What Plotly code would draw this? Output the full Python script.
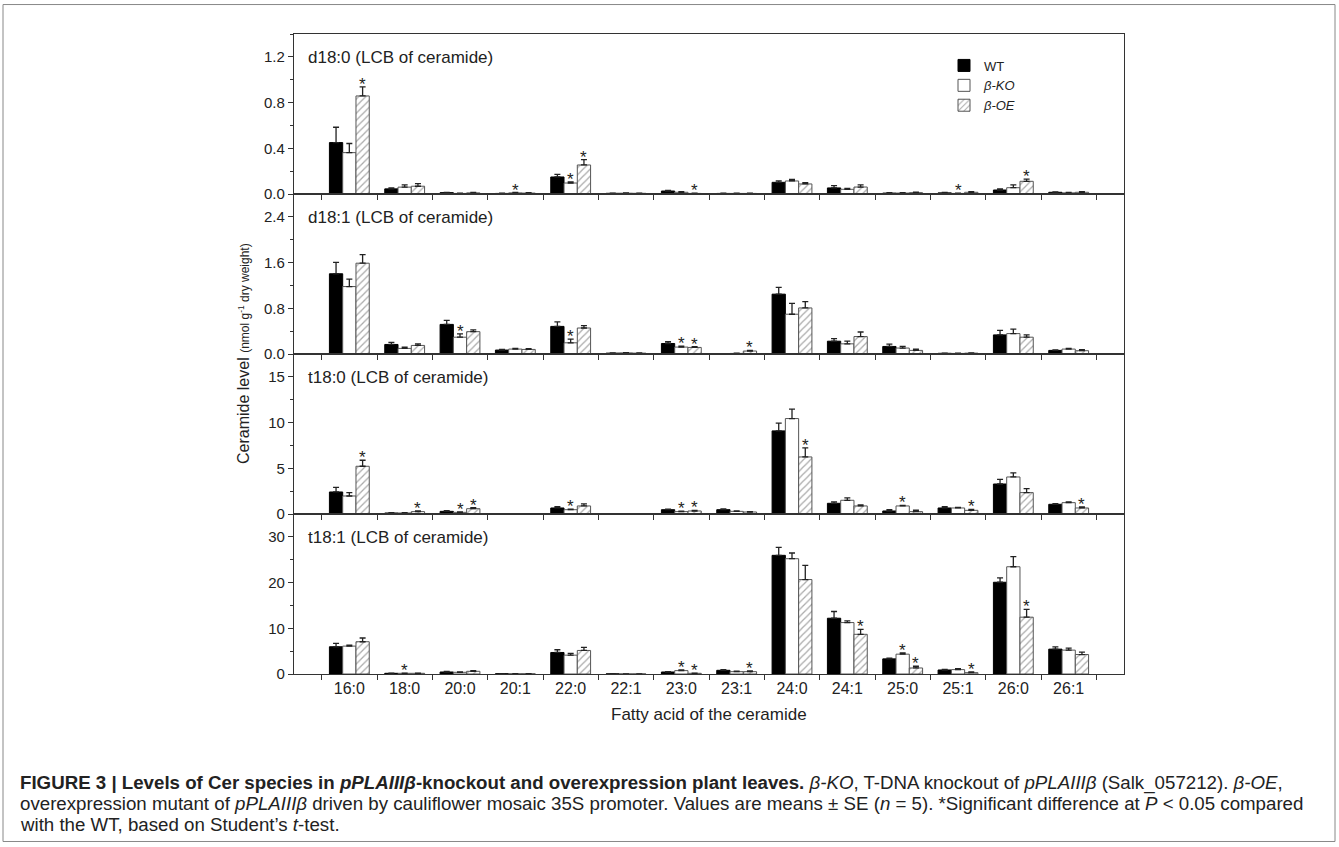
import plotly.graph_objects as go

# ---------------- data ----------------
categories = ["16:0", "18:0", "20:0", "20:1", "22:0", "22:1", "23:0",
              "23:1", "24:0", "24:1", "25:0", "25:1", "26:0", "26:1"]
genotypes = ["WT", "<i>β-KO</i>", "<i>β-OE</i>"]
panel_titles = ["d18:0 (LCB of ceramide)", "d18:1 (LCB of ceramide)",
                "t18:0 (LCB of ceramide)", "t18:1 (LCB of ceramide)"]

# d18:0
d180_wt = [0.45, 0.045, 0.012, 0.005, 0.149, 0.006, 0.026, 0.005, 0.102, 0.053, 0.008, 0.010, 0.035, 0.015]
d180_ko = [0.362, 0.060, 0.005, 0.010, 0.096, 0.007, 0.015, 0.005, 0.114, 0.041, 0.008, 0.005, 0.055, 0.010]
d180_oe = [0.858, 0.068, 0.010, 0.008, 0.254, 0.006, 0.005, 0.005, 0.088, 0.061, 0.012, 0.015, 0.111, 0.015]
d180_wt_se = [0.134, 0.008, 0.003, 0.002, 0.023, 0.002, 0.005, 0.002, 0.012, 0.020, 0.003, 0.003, 0.009, 0.004]
d180_ko_se = [0.080, 0.020, 0.002, 0.003, 0.010, 0.002, 0.006, 0.002, 0.013, 0.009, 0.003, 0.002, 0.024, 0.003]
d180_oe_se = [0.080, 0.023, 0.004, 0.003, 0.047, 0.002, 0.002, 0.002, 0.012, 0.018, 0.005, 0.005, 0.020, 0.005]
d180_ko_sig = [0, 0, 0, 1, 1, 0, 0, 0, 0, 0, 0, 1, 0, 0]
d180_oe_sig = [1, 0, 0, 0, 1, 0, 1, 0, 0, 0, 0, 0, 1, 0]

# d18:1
d181_wt = [1.404, 0.167, 0.518, 0.069, 0.483, 0.015, 0.184, 0.005, 1.047, 0.224, 0.132, 0.012, 0.334, 0.063]
d181_ko = [1.180, 0.098, 0.294, 0.086, 0.196, 0.020, 0.121, 0.010, 0.696, 0.178, 0.104, 0.010, 0.357, 0.086]
d181_oe = [1.589, 0.150, 0.391, 0.080, 0.455, 0.015, 0.115, 0.052, 0.806, 0.305, 0.063, 0.015, 0.294, 0.058]
d181_wt_se = [0.200, 0.035, 0.070, 0.012, 0.080, 0.004, 0.030, 0.003, 0.120, 0.046, 0.040, 0.004, 0.080, 0.008]
d181_ko_se = [0.130, 0.023, 0.058, 0.012, 0.063, 0.004, 0.017, 0.003, 0.190, 0.046, 0.030, 0.003, 0.080, 0.012]
d181_oe_se = [0.150, 0.028, 0.030, 0.012, 0.040, 0.004, 0.012, 0.012, 0.110, 0.080, 0.023, 0.005, 0.040, 0.017]
d181_ko_sig = [0, 0, 1, 0, 1, 0, 1, 0, 0, 0, 0, 0, 0, 0]
d181_oe_sig = [0, 0, 0, 0, 0, 0, 1, 1, 0, 0, 0, 0, 0, 0]

# t18:0
t180_wt = [2.41, 0.11, 0.29, 0.02, 0.66, 0.02, 0.47, 0.47, 9.09, 1.17, 0.33, 0.66, 3.28, 1.06]
t180_ko = [1.97, 0.11, 0.18, 0.02, 0.47, 0.02, 0.26, 0.29, 10.44, 1.50, 0.88, 0.66, 4.05, 1.24]
t180_oe = [5.22, 0.26, 0.58, 0.02, 0.88, 0.02, 0.33, 0.22, 6.24, 0.88, 0.26, 0.40, 2.34, 0.66]
t180_wt_se = [0.51, 0.03, 0.07, 0.01, 0.15, 0.01, 0.07, 0.10, 0.84, 0.15, 0.15, 0.15, 0.51, 0.07]
t180_ko_se = [0.37, 0.03, 0.05, 0.01, 0.07, 0.01, 0.04, 0.04, 1.02, 0.26, 0.07, 0.07, 0.44, 0.07]
t180_oe_se = [0.66, 0.07, 0.11, 0.01, 0.22, 0.01, 0.07, 0.05, 0.99, 0.11, 0.15, 0.11, 0.44, 0.11]
t180_ko_sig = [0, 0, 1, 0, 1, 0, 1, 0, 0, 0, 1, 0, 0, 0]
t180_oe_sig = [1, 1, 1, 0, 0, 0, 1, 0, 1, 0, 0, 1, 0, 1]

# t18:1
t181_wt = [5.96, 0.15, 0.44, 0.05, 4.71, 0.02, 0.44, 0.81, 25.96, 12.20, 3.31, 0.88, 20.07, 5.44]
t181_ko = [6.10, 0.15, 0.37, 0.05, 4.12, 0.02, 0.74, 0.51, 25.22, 11.25, 4.34, 0.96, 23.46, 5.22]
t181_oe = [7.06, 0.15, 0.59, 0.05, 5.15, 0.02, 0.15, 0.51, 20.66, 8.68, 1.32, 0.29, 12.43, 4.26]
t181_wt_se = [0.74, 0.05, 0.15, 0.02, 0.59, 0.01, 0.10, 0.15, 1.76, 1.47, 0.15, 0.15, 0.96, 0.51]
t181_ko_se = [0.22, 0.05, 0.10, 0.02, 0.37, 0.01, 0.15, 0.10, 1.25, 0.37, 0.29, 0.22, 2.20, 0.44]
t181_oe_se = [0.81, 0.05, 0.15, 0.02, 0.66, 0.01, 0.05, 0.15, 3.09, 1.10, 0.37, 0.15, 1.69, 0.51]
t181_ko_sig = [0, 1, 0, 0, 0, 0, 1, 0, 0, 0, 1, 0, 0, 0]
t181_oe_sig = [0, 0, 0, 0, 0, 0, 1, 1, 0, 1, 1, 1, 1, 0]

y_ranges = [1.4, 2.8, 17.5, 35]
y_dticks = [0.4, 0.8, 5, 10]
y_formats = [".1f", ".1f", "d", "d"]

panels = [
    (d180_wt, d180_ko, d180_oe, d180_wt_se, d180_ko_se, d180_oe_se, d180_ko_sig, d180_oe_sig),
    (d181_wt, d181_ko, d181_oe, d181_wt_se, d181_ko_se, d181_oe_se, d181_ko_sig, d181_oe_sig),
    (t180_wt, t180_ko, t180_oe, t180_wt_se, t180_ko_se, t180_oe_se, t180_ko_sig, t180_oe_sig),
    (t181_wt, t181_ko, t181_oe, t181_wt_se, t181_ko_se, t181_oe_se, t181_ko_sig, t181_oe_sig),
]

# ---------------- figure ----------------
W, H = 1339, 847
ML, MR, MT, MB = 294, 215, 33.5, 172.7
PW, PH = W - ML - MR, H - MT - MB

FONT = "Liberation Sans, Arial, sans-serif"
AX = "#333333"
xpos = list(range(len(categories)))

fig = go.Figure()
styles = [
    dict(marker=dict(color="black", line=dict(color="black", width=1))),
    dict(marker=dict(color="white", line=dict(color="#555555", width=1))),
    dict(marker=dict(color="white", line=dict(color="#555555", width=1),
                     pattern=dict(shape="/", fgcolor="#555555", bgcolor="white",
                                  size=5, solidity=0.25))),
]

annotations = []
for p, (wt, ko, oe, wse, kse, ose, ksig, osig) in enumerate(panels):
    xa = "x" if p == 0 else f"x{p+1}"
    ya = "y" if p == 0 else f"y{p+1}"
    for g, (vals, se) in enumerate([(wt, wse), (ko, kse), (oe, ose)]):
        fig.add_trace(go.Bar(
            x=xpos, y=vals, name=genotypes[g], xaxis=xa, yaxis=ya,
            legendgroup=genotypes[g], showlegend=(p == 0),
            error_y=dict(type="data", array=se, arrayminus=[0] * len(se),
                         symmetric=False, color="#222222", thickness=1.3, width=3),
            **styles[g]))
    # significance stars
    for g, (vals, se, sig) in enumerate([(ko, kse, ksig), (oe, ose, osig)], start=1):
        for i, s in enumerate(sig):
            if s:
                annotations.append(dict(
                    x=i + (g - 1) * 0.24, y=vals[i] + se[i], xref=xa, yref=ya,
                    text="*", showarrow=False, yanchor="bottom", yshift=-9,
                    font=dict(size=17, color="#222222", family=FONT)))
    # panel title
    annotations.append(dict(
        x=(306 - ML) / PW, xref="paper", y=1, yref=f"{ya} domain",
        yshift=-23, xanchor="left", yanchor="middle", showarrow=False,
        text=panel_titles[p], font=dict(size=17, color="#222222", family=FONT)))

layout = dict(
    width=W, height=H, paper_bgcolor="white", plot_bgcolor="white",
    margin=dict(l=ML, r=MR, t=MT, b=MB),
    barmode="group", bargap=0.28, bargroupgap=0,
    font=dict(family=FONT, color="#222222"),
    showlegend=True,
    legend=dict(x=(944 - ML) / PW, y=1 - (50 - MT) / PH, xanchor="left", yanchor="top",
                font=dict(size=13, color="#222222", family=FONT),
                bgcolor="rgba(0,0,0,0)", tracegroupgap=0),
)

for p in range(4):
    dom = [0.75 - 0.25 * p, 1.0 - 0.25 * p]
    xk = "xaxis" if p == 0 else f"xaxis{p+1}"
    yk = "yaxis" if p == 0 else f"yaxis{p+1}"
    ya = "y" if p == 0 else f"y{p+1}"
    xa = "x" if p == 0 else f"x{p+1}"
    layout[xk] = dict(
        domain=[0, 1], anchor=ya, range=[-1, 14],
        tickmode="array", tickvals=xpos, ticktext=categories,
        showticklabels=(p == 3), ticks="",
        tickfont=dict(size=16, color="#222222", family=FONT),
        minor=dict(tickmode="array", tickvals=[i - 0.5 for i in range(15)],
                   ticks="outside", ticklen=5, tickwidth=1.2, tickcolor=AX),
        showline=True, linecolor=AX, linewidth=1.2, mirror=True,
        showgrid=False, zeroline=False,
    )
    if p > 0:
        layout[xk]["matches"] = "x"
    layout[yk] = dict(
        domain=dom, anchor=xa, range=[0, y_ranges[p]],
        tickmode="linear", tick0=0, dtick=y_dticks[p], tickformat=y_formats[p],
        ticks="outside", ticklen=5, tickwidth=1.2, tickcolor=AX,
        minor=dict(dtick=y_dticks[p] / 2, ticks="outside", ticklen=3, tickwidth=1.2,
                   tickcolor=AX),
        tickfont=dict(size=15, color="#222222", family=FONT),
        showline=True, linecolor=AX, linewidth=1.2, mirror=True,
        showgrid=False, zeroline=False,
    )

# axis titles
annotations.append(dict(
    x=(243 - ML) / PW, y=0.5, xref="paper", yref="paper", textangle=-90,
    showarrow=False, xanchor="center", yanchor="middle",
    text="Ceramide level <span style='font-size:12px'>(nmol g<sup>-1</sup> dry weight)</span>",
    font=dict(size=16, color="#222222", family=FONT)))
annotations.append(dict(
    x=0.5, y=(H - MB - 715) / PH, xref="paper", yref="paper",
    showarrow=False, xanchor="center", yanchor="middle",
    text="Fatty acid of the ceramide",
    font=dict(size=17, color="#222222", family=FONT)))

# caption
cap_font = dict(size=18.7, color="#222222", family=FONT)
caption_lines = [
    "<b>FIGURE 3 | Levels of Cer species in <i>pPLAIIIβ</i>-knockout and overexpression plant leaves.</b> "
    "<i>β-KO</i>, T-DNA knockout of <i>pPLAIIIβ</i> (Salk_057212). <i>β-OE</i>,",
    "overexpression mutant of <i>pPLAIIIβ</i> driven by cauliflower mosaic 35S promoter. "
    "Values are means ± SE (<i>n</i> = 5). *Significant difference at <i>P</i> &lt; 0.05 compared",
    "with the WT, based on Student’s <i>t</i>-test.",
]
caption_y = [783, 804, 825]
for line, cy in zip(caption_lines, caption_y):
    annotations.append(dict(
        x=(18 - ML) / PW, y=(H - MB - cy) / PH, xref="paper", yref="paper",
        xanchor="left", yanchor="middle", showarrow=False, align="left",
        text=line, font=cap_font))

layout["annotations"] = annotations
layout["shapes"] = [dict(
    type="rect", xref="paper", yref="paper",
    x0=(3 - ML) / PW, x1=(1335 - ML) / PW,
    y0=(H - MB - 842) / PH, y1=(H - MB - 4) / PH,
    line=dict(color="#888888", width=1), fillcolor="rgba(0,0,0,0)", layer="below")]

fig.update_layout(**layout)
fig.write_html("out.html")
